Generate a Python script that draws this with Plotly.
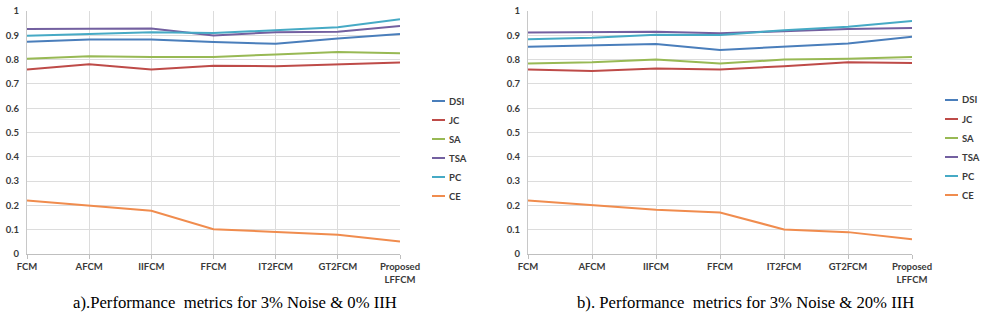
import plotly.graph_objects as go

categories = ["FCM", "AFCM", "IIFCM", "FFCM", "IT2FCM", "GT2FCM", "Proposed<br>LFFCM"]
series_names = ["DSI", "JC", "SA", "TSA", "PC", "CE"]
series_colors = ["#4A7EBB", "#BE4B48", "#98B954", "#7360A0", "#46AAC5", "#F08C4E"]

# Chart a) 3% Noise & 0% IIH
a_DSI = [0.873, 0.883, 0.883, 0.872, 0.865, 0.887, 0.905]
a_JC = [0.759, 0.781, 0.759, 0.775, 0.773, 0.780, 0.788]
a_SA = [0.803, 0.814, 0.811, 0.811, 0.821, 0.831, 0.826]
a_TSA = [0.926, 0.927, 0.928, 0.899, 0.913, 0.915, 0.938]
a_PC = [0.898, 0.904, 0.913, 0.909, 0.921, 0.933, 0.966]
a_CE = [0.220, 0.199, 0.178, 0.102, 0.089, 0.079, 0.051]

# Chart b) 3% Noise & 20% IIH
b_DSI = [0.853, 0.858, 0.864, 0.840, 0.853, 0.866, 0.894]
b_JC = [0.759, 0.753, 0.763, 0.759, 0.773, 0.789, 0.786]
b_SA = [0.784, 0.789, 0.800, 0.784, 0.800, 0.803, 0.811]
b_TSA = [0.912, 0.915, 0.915, 0.908, 0.917, 0.926, 0.930]
b_PC = [0.884, 0.890, 0.902, 0.901, 0.921, 0.935, 0.959]
b_CE = [0.220, 0.200, 0.182, 0.171, 0.101, 0.090, 0.061]

y_ticks = [0, 0.1, 0.2, 0.3, 0.4, 0.5, 0.6, 0.7, 0.8, 0.9, 1]
y_tick_text = ["0", "0.1", "0.2", "0.3", "0.4", "0.5", "0.6", "0.7", "0.8", "0.9", "1"]

caption_a = "a).Performance\u00a0\u00a0metrics for 3% Noise & 0% IIH"
caption_b = "b). Performance\u00a0\u00a0metrics for 3% Noise & 20% IIH"

W, H = 985, 314

def px(x):
    return x / W

def py(y):
    return 1 - y / H

data_a = [a_DSI, a_JC, a_SA, a_TSA, a_PC, a_CE]
data_b = [b_DSI, b_JC, b_SA, b_TSA, b_PC, b_CE]

fig = go.Figure()
for name, color, ya, yb in zip(series_names, series_colors, data_a, data_b):
    fig.add_trace(go.Scatter(x=list(range(len(categories))), y=ya, mode="lines", name=name,
                             line=dict(color=color, width=2), xaxis="x", yaxis="y", showlegend=False))
    fig.add_trace(go.Scatter(x=list(range(len(categories))), y=yb, mode="lines", name=name,
                             line=dict(color=color, width=2), xaxis="x2", yaxis="y2", showlegend=False))

tick_font = dict(family="Lato", size=9.5, color="#3a3a3a", weight="bold")
grid_col = "#dcdcdc"

xcommon = dict(range=[0, 6], tickmode="array", tickvals=list(range(len(categories))),
               ticktext=[f"<b>{c}</b>" for c in categories], tickfont=tick_font,
               showgrid=True, gridcolor=grid_col, gridwidth=1,
               showline=True, linecolor="#bfbfbf", linewidth=1,
               ticks="outside", ticklen=4, tickcolor="#bfbfbf", zeroline=False,
               automargin=False)
ycommon = dict(range=[0, 1], tickmode="array", tickvals=y_ticks,
               ticktext=[f"<b>{t}</b>" for t in y_tick_text], tickfont=tick_font,
               showgrid=True, gridcolor=grid_col, gridwidth=1,
               showline=True, linecolor="#c8c8c8", linewidth=1, ticks="", zeroline=False,
               ticklabelstandoff=5, automargin=False)

fig.update_layout(
    width=W, height=H, margin=dict(l=0, r=0, t=0, b=0, autoexpand=False),
    paper_bgcolor="white", plot_bgcolor="white", hovermode=False,
    xaxis=dict(domain=[px(27), px(400)], anchor="y", **xcommon),
    yaxis=dict(domain=[py(254), py(11)], anchor="x", **ycommon),
    xaxis2=dict(domain=[px(528), px(912)], anchor="y2", **xcommon),
    yaxis2=dict(domain=[py(254), py(11)], anchor="x2", **ycommon),
)

shapes = []
annotations = []
for lx, ty0 in [(432, 101), (945, 100)]:
    for i, (name, color) in enumerate(zip(series_names, series_colors)):
        yy = ty0 + 19 * i
        shapes.append(dict(type="line", xref="paper", yref="paper",
                           x0=px(lx), x1=px(lx + 13), y0=py(yy), y1=py(yy),
                           line=dict(color=color, width=2)))
        annotations.append(dict(xref="paper", yref="paper", x=px(lx + 15), y=py(yy),
                                xanchor="left", yanchor="middle", showarrow=False,
                                text=f"<b>{name}</b>", font=tick_font))

annotations.append(dict(xref="paper", yref="paper", x=px(235), y=py(302), xanchor="center",
                        yanchor="middle", showarrow=False, text=caption_a,
                        font=dict(family="Liberation Serif", size=16.7, color="black")))
annotations.append(dict(xref="paper", yref="paper", x=px(745), y=py(302), xanchor="center",
                        yanchor="middle", showarrow=False, text=caption_b,
                        font=dict(family="Liberation Serif", size=16.7, color="black")))

fig.update_layout(shapes=shapes, annotations=annotations)
fig.write_html("out.html", config={"displayModeBar": False, "staticPlot": True},
               post_script="document.body.style.margin='0px';document.body.style.overflow='hidden';")
